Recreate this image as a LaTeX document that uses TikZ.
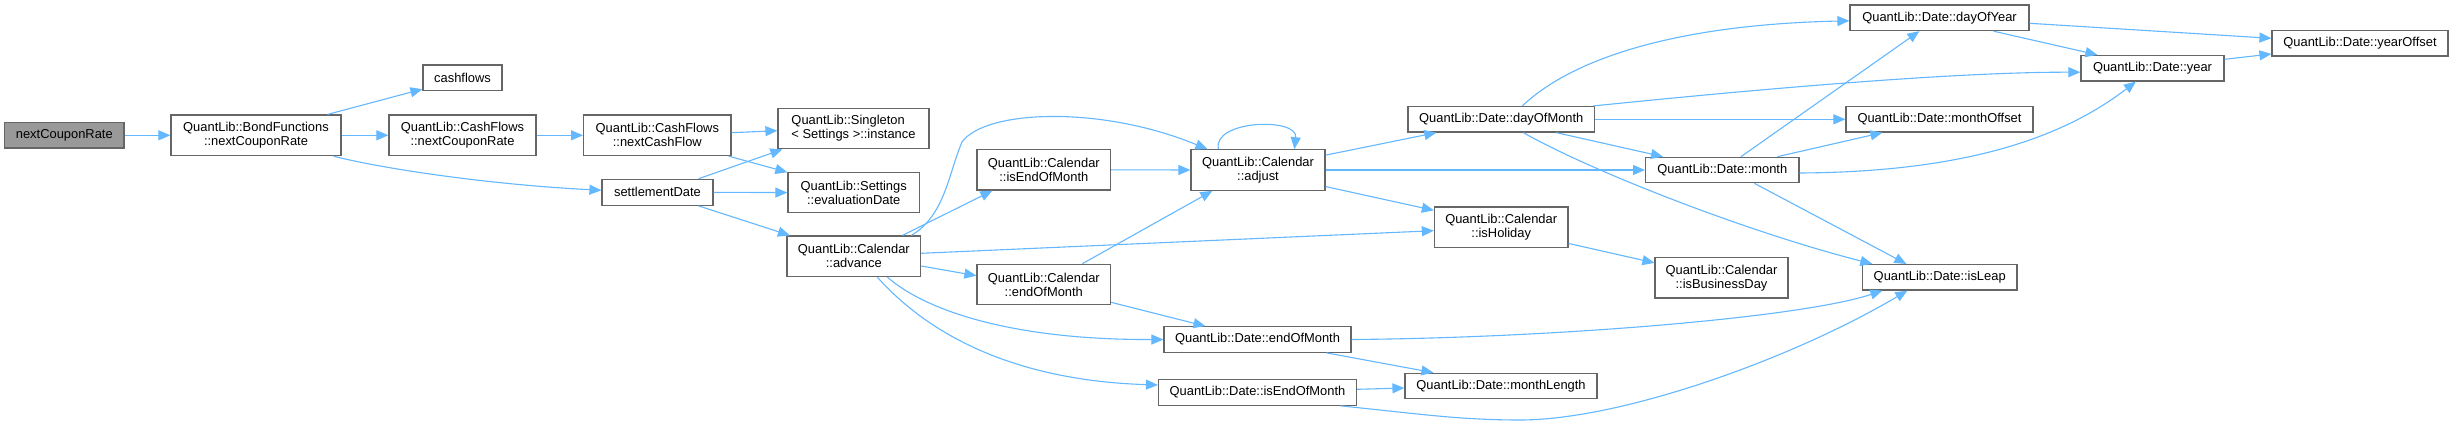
\documentclass[tikz,border=0pt]{standalone}
\usepackage{fontspec}
\setmainfont{Liberation Sans}
\usetikzlibrary{arrows.meta,calc}
\definecolor{edgeblue}{HTML}{63B8FF}
\definecolor{nodeborder}{HTML}{666666}
\definecolor{mainfill}{HTML}{999999}
\begin{document}
\begin{tikzpicture}[x=1pt,y=-1pt,
 box/.style={draw=nodeborder, line width=1.2pt, fill=white, inner sep=0pt, align=center, font=\fontsize{12.9}{14}\selectfont},
 one/.style={box, minimum height=25.5pt},
 two/.style={box, minimum height=40.5pt},
 ed/.style={draw=edgeblue, line width=1.1pt, -{Triangle[length=12pt,width=10pt]}}
]
\fill[white] (0,0) rectangle (2453,425);
\useasboundingbox (0,0) rectangle (2453,425);

\node[one, fill=mainfill, minimum width=119.3pt] (ncr) at (64.3,135.3) {nextCouponRate};
\node[two, minimum width=170pt] (bf) at (256,135.3) {QuantLib::BondFunctions\\::nextCouponRate};
\node[one, minimum width=79pt] (cf) at (462.5,77.8) {cashflows};
\node[two, minimum width=147pt] (cfn) at (462.5,135.3) {QuantLib::CashFlows\\::nextCouponRate};
\node[two, minimum width=147.4pt] (ncf) at (657.3,135.3) {QuantLib::CashFlows\\::nextCashFlow};
\node[one, minimum width=111pt, minimum height=26pt] (sd) at (657.5,192.3) {settlementDate};
\node[two, minimum width=151pt, align=left] (sgl) at (853.5,128.5) {QuantLib::Singleton\\< Settings >::instance};
\node[two, minimum width=131.5pt] (evd) at (853.7,192.6) {QuantLib::Settings\\::evaluationDate};
\node[two, minimum width=133.7pt] (adv) at (853.8,256.3) {QuantLib::Calendar\\::advance};
\node[two, minimum width=133.6pt] (cieom) at (1043.8,169.8) {QuantLib::Calendar\\::isEndOfMonth};
\node[two, minimum width=133.6pt] (ceom) at (1043.8,284.5) {QuantLib::Calendar\\::endOfMonth};
\node[two, minimum width=134pt] (adj) at (1258,170) {QuantLib::Calendar\\::adjust};
\node[one, minimum width=187pt] (deom) at (1257.5,339.5) {QuantLib::Date::endOfMonth};
\node[one, minimum width=198pt] (dieom) at (1257.5,392.5) {QuantLib::Date::isEndOfMonth};
\node[one, minimum width=186.7pt] (dom) at (1501.3,119.3) {QuantLib::Date::dayOfMonth};
\node[two, minimum width=133.5pt] (hol) at (1501.2,227.2) {QuantLib::Calendar\\::isHoliday};
\node[one, minimum width=192pt] (mlen) at (1501,386) {QuantLib::Date::monthLength};
\node[one, minimum width=153.4pt] (mon) at (1722.3,170) {QuantLib::Date::month};
\node[two, minimum width=133pt] (bday) at (1721.5,277.7) {QuantLib::Calendar\\::isBusinessDay};
\node[one, minimum width=179pt] (doy) at (1939.5,17.8) {QuantLib::Date::dayOfYear};
\node[one, minimum width=187pt] (moff) at (1939.5,119.3) {QuantLib::Date::monthOffset};
\node[one, minimum width=154.5pt] (leap) at (1939.7,277.3) {QuantLib::Date::isLeap};
\node[one, minimum width=143pt] (year) at (2152.5,68.2) {QuantLib::Date::year};
\node[one, minimum width=176pt] (yoff) at (2360,43.3) {QuantLib::Date::yearOffset};

\draw[ed] (ncr.east) -- (bf.west);
\draw[ed] ($(bf.north west)+(157,0)$) -- ($(cf.south west)+(0,-2)$);
\draw[ed] (bf.east) -- (cfn.west);
\draw[ed] ($(bf.south west)+(163,0)$) .. controls (375,167) and (480,184) .. ($(sd.west)+(0,-2)$);
\draw[ed] (cfn.east) -- (ncf.west);
\draw[ed] ($(ncf.east)+(0,-2.6)$) -- ($(sgl.west)+(0,2.2)$);
\draw[ed] ($(ncf.south east)+(-3,0)$) -- ($(evd.north west)+(0,0.5)$);
\draw[ed] ($(sd.north east)+(-15,0)$) -- ($(sgl.south west)+(5,0)$);
\draw[ed] (sd.east) -- (evd.west);
\draw[ed] ($(sd.south east)+(-15,0)$) -- ($(adv.north west)+(3.6,0)$);
\draw[ed] ($(adv.north west)+(116,0)$) -- ($(cieom.south west)+(16,0)$);
\draw[ed] ($(adv.north west)+(125,0)$) .. controls (945,215) and (948,175) .. (962,142) .. controls (985,110) and (1100,105) .. ($(adj.north west)+(17,0)$);
\draw[ed] ($(adv.east)+(0,-3)$) -- ($(hol.west)+(0,3.5)$);
\draw[ed] ($(adv.east)+(0,9.7)$) -- ($(ceom.west)+(0,-8.8)$);
\draw[ed] ($(adv.south west)+(101,0)$) .. controls (925,310) and (1010,340) .. (deom.west);
\draw[ed] ($(adv.south west)+(91,0)$) .. controls (920,325) and (1000,380) .. ($(dieom.west)+(0,-7.5)$);
\draw[ed] (cieom.east) -- (adj.west);
\draw[ed] ($(ceom.north west)+(106,0)$) -- ($(adj.south west)+(22,0)$);
\draw[ed] ($(ceom.south east)+(0,-3)$) -- ($(deom.north west)+(42,0)$);
\draw[ed] ($(adj.north west)+(28,0)$) .. controls (1212,120) and (1298,117) .. ($(adj.north west)+(104,0)$);
\draw[ed] ($(adj.north east)+(0,6)$) -- ($(dom.south west)+(29,0)$);
\draw[ed] (adj.east) -- (mon.west);
\draw[ed] ($(adj.south east)+(0,-4.3)$) -- ($(hol.north west)+(0,4)$);
\draw[ed] ($(dom.north west)+(115,0)$) .. controls (1565,65) and (1660,25) .. ($(doy.west)+(0,3)$);
\draw[ed] ($(dom.north east)+(-2,0)$) .. controls (1750,90) and (1950,72) .. ($(year.west)+(0,4)$);
\draw[ed] (dom.east) -- (moff.west);
\draw[ed] ($(dom.south west)+(149,0)$) -- ($(mon.north west)+(18,0)$);
\draw[ed] ($(dom.south west)+(116,0)$) .. controls (1585,168) and (1740,230) .. ($(leap.north west)+(10.5,0)$);
\draw[ed] ($(mon.north west)+(96,0)$) -- ($(doy.south west)+(70,0)$);
\draw[ed] ($(mon.north west)+(132.4,0)$) -- ($(moff.south west)+(37,0)$);
\draw[ed] ($(mon.east)+(0,3)$) .. controls (1960,172) and (2060,140) .. ($(year.south west)+(55.5,0)$);
\draw[ed] ($(mon.south west)+(109.4,0)$) -- ($(leap.north west)+(44.5,0)$);
\draw[ed] ($(doy.east)+(0,5.5)$) -- ($(yoff.west)+(0,-5)$);
\draw[ed] ($(doy.south west)+(144,0)$) -- ($(year.north west)+(17,0)$);
\draw[ed] ($(year.east)+(0,-8.9)$) -- ($(yoff.south west)+(0,-2.7)$);
\draw[ed] ($(hol.south east)+(0,-4.6)$) -- ($(bday.north west)+(0,6)$);
\draw[ed] ($(deom.south west)+(163,0)$) -- ($(mlen.north west)+(29,0)$);
\draw[ed] (deom.east) .. controls (1550,338) and (1800,318) .. ($(leap.south west)+(20.5,0)$);
\draw[ed] ($(dieom.east)+(0,-3.2)$) -- ($(mlen.west)+(0,2)$);
\draw[ed] ($(dieom.south east)+(-16.6,0)$) .. controls (1420,414) and (1460,420) .. (1520,420) .. controls (1620,420) and (1790,360) .. ($(leap.south west)+(45.5,0)$);
\end{tikzpicture}
\end{document}
